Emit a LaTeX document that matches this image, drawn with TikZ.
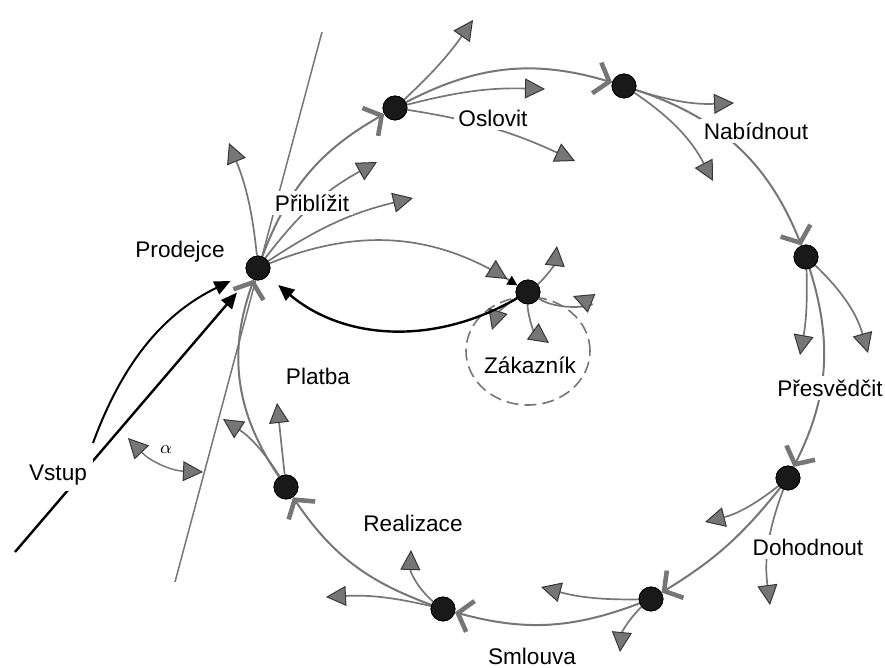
\documentclass[tikz,border=0pt]{standalone}
\usepackage{fontspec}
\setmainfont{Liberation Sans}
\usepackage{tikz}
\definecolor{myGray}{RGB}{118,118,118}
\definecolor{myDark}{RGB}{55,55,55}
\usetikzlibrary{arrows.meta,positioning,shapes.geometric}
\tikzset{
  font=\fontsize{11.3}{13}\selectfont,
  dot/.style={draw=black,fill=black!90,shape=circle,minimum size=12pt,inner sep=0},
  lbl/.style={fill=white,inner sep=2pt},
  cyc/.style={draw=myGray,line width=1pt,-{Straight Barb[length=6.5pt,width=16pt,line width=2.3pt]}},
  lost/.style={draw=myGray,line width=0.85pt,-{Triangle[length=10pt,width=10pt,fill=myGray,color=myDark,line width=0.5pt]}},
  guide/.style={draw=myGray,line width=0.75pt},
  feed/.style={draw=black,line width=1.2pt,-{Triangle[length=8pt,width=7pt,fill=black]}},
}

\begin{document}
\begin{tikzpicture}[x=0.5pt,y=-0.5pt]
  \useasboundingbox (0,0) rectangle (885,668);
  % stations of the sales cycle
  \node (prod) [dot] at (258,268) {};
  \node (oslov) [dot] at (395,108) {};
  \node (nabid) [dot] at (624,86) {};
  \node (presv) [dot] at (806,257) {};
  \node (dohod) [dot] at (788,478) {};
  \node (smlouv) [dot] at (651,599) {};
  \node (realiz) [dot] at (443,609) {};
  \node (platb) [dot] at (286,487) {};
  \node (zak) [dot] at (528,292) {};
  \node (zkruh) [draw=myGray,dash pattern=on 6pt off 3pt,line width=0.8pt,ellipse,minimum width=62pt,minimum height=54pt] at (528,351) {};

  % free ends
  \coordinate (t1) at (322,32);
  \coordinate (t2) at (175,582);
  \coordinate (vs) at (15,552);
  \coordinate (vc) at (93,443);
  \coordinate (a1) at (128,438);
  \coordinate (a2) at (203,472);
  \coordinate (pa) at (229,143);
  \coordinate (pc) at (377,162);
  \coordinate (pd) at (413,198);
  \coordinate (oa) at (473,20);
  \coordinate (ob) at (545,89);
  \coordinate (oc) at (575,161);
  \coordinate (na) at (734,103);
  \coordinate (nb) at (713,181);
  \coordinate (sa) at (800,355);
  \coordinate (sb) at (868,353);
  \coordinate (da) at (705,522);
  \coordinate (db) at (770,605);
  \coordinate (ma) at (541,587);
  \coordinate (mb) at (620,652);
  \coordinate (ra) at (326,597);
  \coordinate (rb) at (411,550);
  \coordinate (ba) at (277,403);
  \coordinate (bb) at (223,419);
  \coordinate (za) at (557,246);
  \coordinate (zb) at (573,296);
  \coordinate (zc) at (492,330);
  \coordinate (zd) at (549,343);

  % guide line and angle
  \path [guide] (t1) -- (t2);
  \path [guide,{Triangle[length=10pt,width=10pt,fill=myGray,color=myDark,line width=0.5pt]}-{Triangle[length=10pt,width=10pt,fill=myGray,color=myDark,line width=0.5pt]}] (a1) to[bend right=22] (a2);

  % input
  \path [feed] (vs) -- (prod) [shorten >=10pt];
  \path [feed,line width=1pt] (vc) to[bend left=22] (prod) [shorten >=9pt];

  % cycle
  \path [cyc] (prod) to[bend left=20] (oslov);
  \path [cyc] (oslov) to[bend left=22] (nabid);
  \path [cyc] (nabid) to[bend left=25] (presv);
  \path [cyc] (presv) to[bend left=22] (dohod);
  \path [cyc] (dohod) to[bend left=10] (smlouv);
  \path [cyc] (smlouv) to[bend left=18] (realiz);
  \path [cyc] (realiz) to[bend left=18] (platb);
  \path [cyc] (platb) to[bend left=27] (prod);

  % losses
  \path [lost] (prod) to[bend right=8] (pa);
  \path [lost] (prod) to[bend left=12] (pc);
  \path [lost] (prod) to[bend left=10] (pd);
  \path [lost] (oslov) to[bend right=6] (oa);
  \path [lost] (oslov) to[bend left=8] (ob);
  \path [lost] (oslov) to[bend left=8] (oc);
  \path [lost] (nabid) to[bend right=10] (na);
  \path [lost] (nabid) to[bend left=14] (nb);
  \path [lost] (presv) to[bend left=6] (sa);
  \path [lost] (presv) to[bend left=15] (sb);
  \path [lost] (dohod) to[bend left=12] (da);
  \path [lost] (dohod) to[bend right=14] (db);
  \path [lost] (smlouv) to[bend left=8] (ma);
  \path [lost] (smlouv) to[bend right=20] (mb);
  \path [lost] (realiz) to[bend right=8] (ra);
  \path [lost] (realiz) to[bend left=25] (rb);
  \path [lost] (platb) -- (ba);
  \path [lost] (platb) to[bend right=12] (bb);
  \path [lost] (zak) to[bend right=20] (za);
  \path [lost] (zak) .. controls (560,312) and (598,306) .. (zb);
  \path [lost] (zak) to[bend right=20] (zc);
  \path [lost] (zak) to[bend right=25] (zd);

  % seller and customer
  \path [lost,-{Triangle[length=10pt,width=10pt,fill=myGray,color=myDark,line width=0.5pt,sep=1pt]Triangle[length=5pt,width=5pt,fill=black,color=black]}] (prod) to[bend left=27] (zak);
  \path [feed] (zak) to[bend left=35] (prod) [shorten >=7pt];

  % labels
  \node (lprod) at (180,252) {Prodejce};
  \node (lpribl) [lbl] at (312,203) {Přiblížit};
  \node (loslov) [lbl] at (493,118) {Oslovit};
  \node (lnabid) [lbl] at (756,131) {Nabídnout};
  \node (lpresv) [lbl] at (830,388) {Přesvědčit};
  \node (ldohod) [lbl] at (808,547) {Dohodnout};
  \node (lsml) at (532,656) {Smlouva};
  \node (lreal) at (413,523) {Realizace};
  \node (lplat) at (318,376) {Platba};
  \node (lvstup) [lbl,inner sep=3pt] at (58,475) {Vstup};
  \node (lzak) at (530,365) {Zákazník};
  \node (lalpha) at (166,450) {\fontsize{9}{10}\selectfont$\alpha$};

  % dots on top
  \foreach \d in {prod,oslov,nabid,presv,dohod,smlouv,realiz,platb,zak}
    \node [dot] at (\d) {};
\end{tikzpicture}
\end{document}
